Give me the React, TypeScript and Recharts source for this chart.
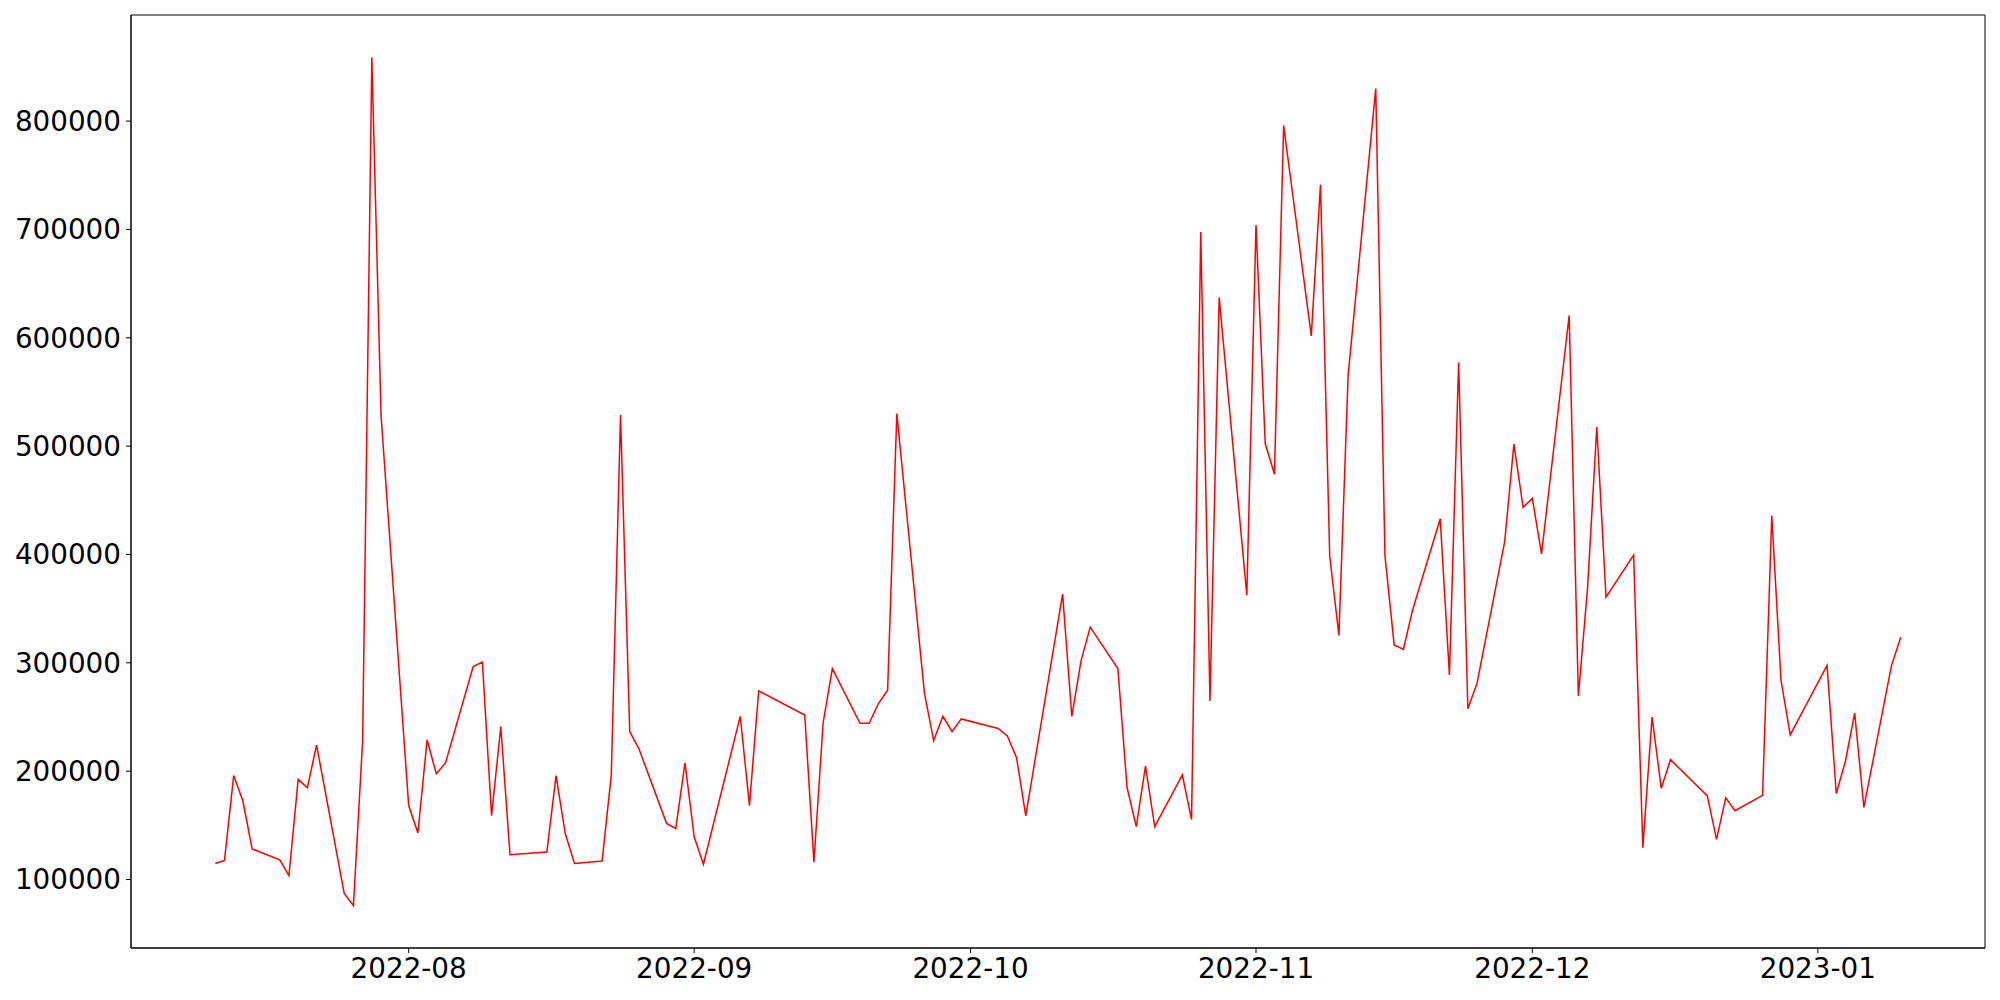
import { Line, LineChart, ReferenceArea, XAxis, YAxis } from "recharts";

// daily values (weekdays, with a few holidays missing)
const dates = [
    "2022-07-11", "2022-07-12", "2022-07-13", "2022-07-14", "2022-07-15",
    "2022-07-18", "2022-07-19", "2022-07-20", "2022-07-21", "2022-07-22",
    "2022-07-25", "2022-07-26", "2022-07-27", "2022-07-28", "2022-07-29",
    "2022-08-01", "2022-08-02", "2022-08-03", "2022-08-04", "2022-08-05",
    "2022-08-08", "2022-08-09", "2022-08-10", "2022-08-11", "2022-08-12",
    "2022-08-16", "2022-08-17", "2022-08-18", "2022-08-19",
    "2022-08-22", "2022-08-23", "2022-08-24", "2022-08-25", "2022-08-26",
    "2022-08-29", "2022-08-30", "2022-08-31", "2022-09-01", "2022-09-02",
    "2022-09-06", "2022-09-07", "2022-09-08",
    "2022-09-13", "2022-09-14", "2022-09-15", "2022-09-16",
    "2022-09-19", "2022-09-20", "2022-09-21", "2022-09-22", "2022-09-23",
    "2022-09-26", "2022-09-27", "2022-09-28", "2022-09-29", "2022-09-30",
    "2022-10-04", "2022-10-05", "2022-10-06", "2022-10-07",
    "2022-10-11", "2022-10-12", "2022-10-13", "2022-10-14",
    "2022-10-17", "2022-10-18", "2022-10-19", "2022-10-20", "2022-10-21",
    "2022-10-24", "2022-10-25", "2022-10-26", "2022-10-27", "2022-10-28",
    "2022-10-31", "2022-11-01", "2022-11-02", "2022-11-03", "2022-11-04",
    "2022-11-07", "2022-11-08", "2022-11-09", "2022-11-10", "2022-11-11",
    "2022-11-14", "2022-11-15", "2022-11-16", "2022-11-17", "2022-11-18",
    "2022-11-21", "2022-11-22", "2022-11-23", "2022-11-24", "2022-11-25",
    "2022-11-28", "2022-11-29", "2022-11-30", "2022-12-01", "2022-12-02",
    "2022-12-05", "2022-12-06", "2022-12-07", "2022-12-08", "2022-12-09",
    "2022-12-12", "2022-12-13", "2022-12-14", "2022-12-15", "2022-12-16",
    "2022-12-20", "2022-12-21", "2022-12-22", "2022-12-23",
    "2022-12-26", "2022-12-27", "2022-12-28", "2022-12-29",
    "2023-01-02", "2023-01-03", "2023-01-04", "2023-01-05", "2023-01-06",
    "2023-01-09", "2023-01-10",
];

const values = [
    114700, 117600, 195900, 172400, 128200,
    118200, 103500, 192400, 184700, 224100,
    87100, 75900, 228200, 858800, 528200,
    168200, 142900, 228800, 197600, 207600,
    296500, 300600, 158800, 241200, 122900,
    125300, 195900, 142400, 114700,
    117100, 196500, 528800, 236500, 220600,
    151800, 147100, 207600, 139400, 114100,
    250600, 168200, 274100,
    251800, 115900, 244700, 294700,
    244100, 244100, 262400, 274700, 530000,
    271800, 228200, 250600, 236500, 248200,
    239400, 232400, 212400, 158800,
    363500, 250600, 301800, 332900,
    294700, 184700, 148800, 204700, 148800,
    196500, 155300, 697600, 264700, 637100,
    362400, 704100, 502400, 474100, 795900,
    601800, 741200, 398800, 325300, 565300,
    830000, 398800, 316500, 312400, 348800,
    432900, 288800, 577100, 257600, 281200,
    411800, 501800, 443500, 451800, 400600,
    620600, 269400, 369400, 517600, 360600,
    399400, 129400, 250000, 184100, 210600,
    177100, 137100, 175300, 163500,
    177600, 435900, 284100, 233500,
    297600, 179400, 209400, 253500, 166500,
    297600, 323500,
];

const monthTicks = [
    "2022-08-01", "2022-09-01", "2022-10-01", "2022-11-01", "2022-12-01", "2023-01-01",
];

const yTicks = [100000, 200000, 300000, 400000, 500000, 600000, 700000, 800000];

const toTime = (d: string) => Date.parse(d + "T00:00:00Z");

const data = dates.map((d, i) => ({ t: toTime(d), value: values[i] }));

// matplotlib-style 5% margins
const tMin = data[0].t;
const tMax = data[data.length - 1].t;
const xPad = (tMax - tMin) * 0.05;
const xDomain: [number, number] = [tMin - xPad, tMax + xPad];

const vMin = Math.min(...values);
const vMax = Math.max(...values);
const yPad = (vMax - vMin) * 0.05;
const yDomain: [number, number] = [vMin - yPad, vMax + yPad];

const tickStyle = {
    fill: "#000",
    fontSize: 27.8,
    fontFamily: "DejaVu Sans",
};

export default function App() {
    return (
        <div
            style={{
                position: "absolute",
                left: 0,
                top: 0,
                width: 2000,
                height: 1000,
                background: "#fff",
            }}
        >
            <LineChart
                width={2000}
                height={1000}
                data={data}
                margin={{ top: 15, right: 15, left: 0, bottom: 0 }}
            >
                <XAxis
                    dataKey="t"
                    type="number"
                    domain={xDomain}
                    allowDataOverflow
                    ticks={monthTicks.map(toTime)}
                    tickFormatter={(t: number) =>
                        new Date(t).toISOString().slice(0, 7)
                    }
                    height={52}
                    tick={tickStyle}
                    tickSize={5}
                    tickMargin={5}
                    axisLine={{ stroke: "#000" }}
                    tickLine={{ stroke: "#000" }}
                />
                <YAxis
                    type="number"
                    domain={yDomain}
                    allowDataOverflow
                    ticks={yTicks}
                    tickFormatter={(v: number) => String(v)}
                    width={131}
                    tick={tickStyle}
                    tickSize={5}
                    tickMargin={5}
                    axisLine={{ stroke: "#000" }}
                    tickLine={{ stroke: "#000" }}
                />
                <ReferenceArea
                    x1={xDomain[0]}
                    x2={xDomain[1]}
                    y1={yDomain[0]}
                    y2={yDomain[1]}
                    fill="none"
                    stroke="#000"
                    strokeWidth={1}
                />
                <Line
                    type="linear"
                    dataKey="value"
                    stroke="#ff0000"
                    strokeWidth={1.5}
                    dot={false}
                    isAnimationActive={false}
                />
            </LineChart>
        </div>
    );
}
